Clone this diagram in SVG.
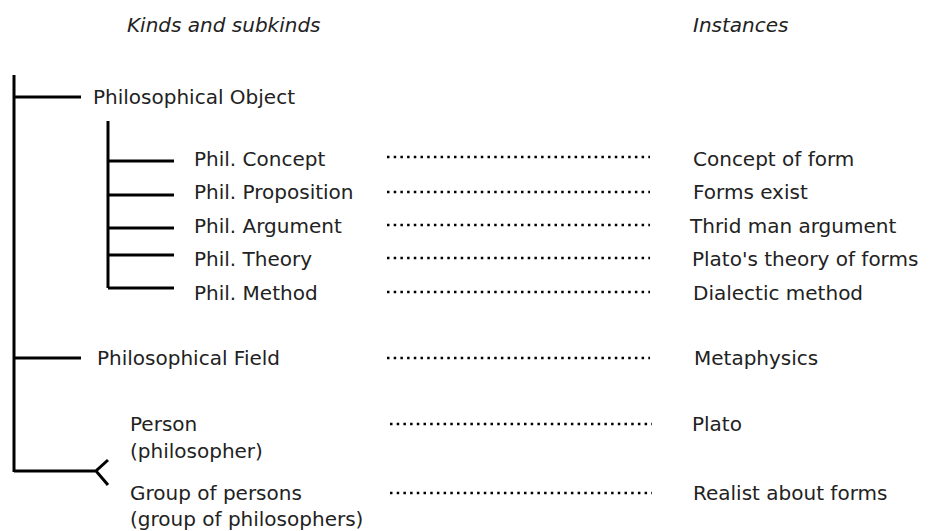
<svg xmlns="http://www.w3.org/2000/svg" width="930" height="531" viewBox="0 0 930 531">
  <style>
    text { font-family: "DejaVu Sans", Verdana, sans-serif; font-size: 20px; fill: #222; }
    .head { font-style: italic; }
    .tree { stroke: #000; stroke-width: 3; fill: none; stroke-linecap: butt; }
    .dots { stroke: #000; stroke-width: 2.5; stroke-dasharray: 2.5 4.2; fill: none; }
  </style>
  <rect width="930" height="531" fill="#fff"/>
  <g id="headers">
    <text class="head" x="127" y="32">Kinds and subkinds</text>
    <text class="head" x="693" y="32">Instances</text>
  </g>
  <g id="connectors">
    <path class="tree" d="M14 75 V472"/>
    <path class="tree" d="M14 97 H81"/>
    <path class="tree" d="M108 121 V288"/>
    <path class="tree" d="M108 161 H174 M108 195 H174 M108 228 H174 M108 255 H174 M108 288 H174"/>
    <path class="tree" d="M14 358 H81"/>
    <path class="tree" d="M14 471 H96 M108 460 L96 471 L108 485"/>
    <path class="dots" d="M387 157 H650"/>
    <path class="dots" d="M387 192 H650"/>
    <path class="dots" d="M387 225 H650"/>
    <path class="dots" d="M387 258 H650"/>
    <path class="dots" d="M387 292 H650"/>
    <path class="dots" d="M387 358 H650"/>
    <path class="dots" d="M390 424 H652"/>
    <path class="dots" d="M390 493 H652"/>
  </g>
  <g id="philosophical-object"><text x="93" y="104">Philosophical Object</text></g>
  <g id="phil-concept"><text x="194" y="166">Phil. Concept</text></g>
  <g id="phil-proposition"><text x="194" y="199">Phil. Proposition</text></g>
  <g id="phil-argument"><text x="194" y="233">Phil. Argument</text></g>
  <g id="phil-theory"><text x="194" y="266">Phil. Theory</text></g>
  <g id="phil-method"><text x="194" y="300">Phil. Method</text></g>
  <g id="philosophical-field"><text x="97" y="365">Philosophical Field</text></g>
  <g id="person"><text x="130" y="431">Person</text><text x="130" y="458">(philosopher)</text></g>
  <g id="group-of-persons"><text x="130" y="500">Group of persons</text><text x="130" y="526">(group of philosophers)</text></g>
  <g id="concept-of-form"><text x="693" y="166">Concept of form</text></g>
  <g id="forms-exist"><text x="693" y="199">Forms exist</text></g>
  <g id="third-man"><text x="690" y="233">Thrid man argument</text></g>
  <g id="platos-theory"><text x="692" y="266">Plato's theory of forms</text></g>
  <g id="dialectic-method"><text x="693" y="300">Dialectic method</text></g>
  <g id="metaphysics"><text x="694" y="365">Metaphysics</text></g>
  <g id="plato"><text x="692" y="431">Plato</text></g>
  <g id="realist"><text x="693" y="500">Realist about forms</text></g>
</svg>
